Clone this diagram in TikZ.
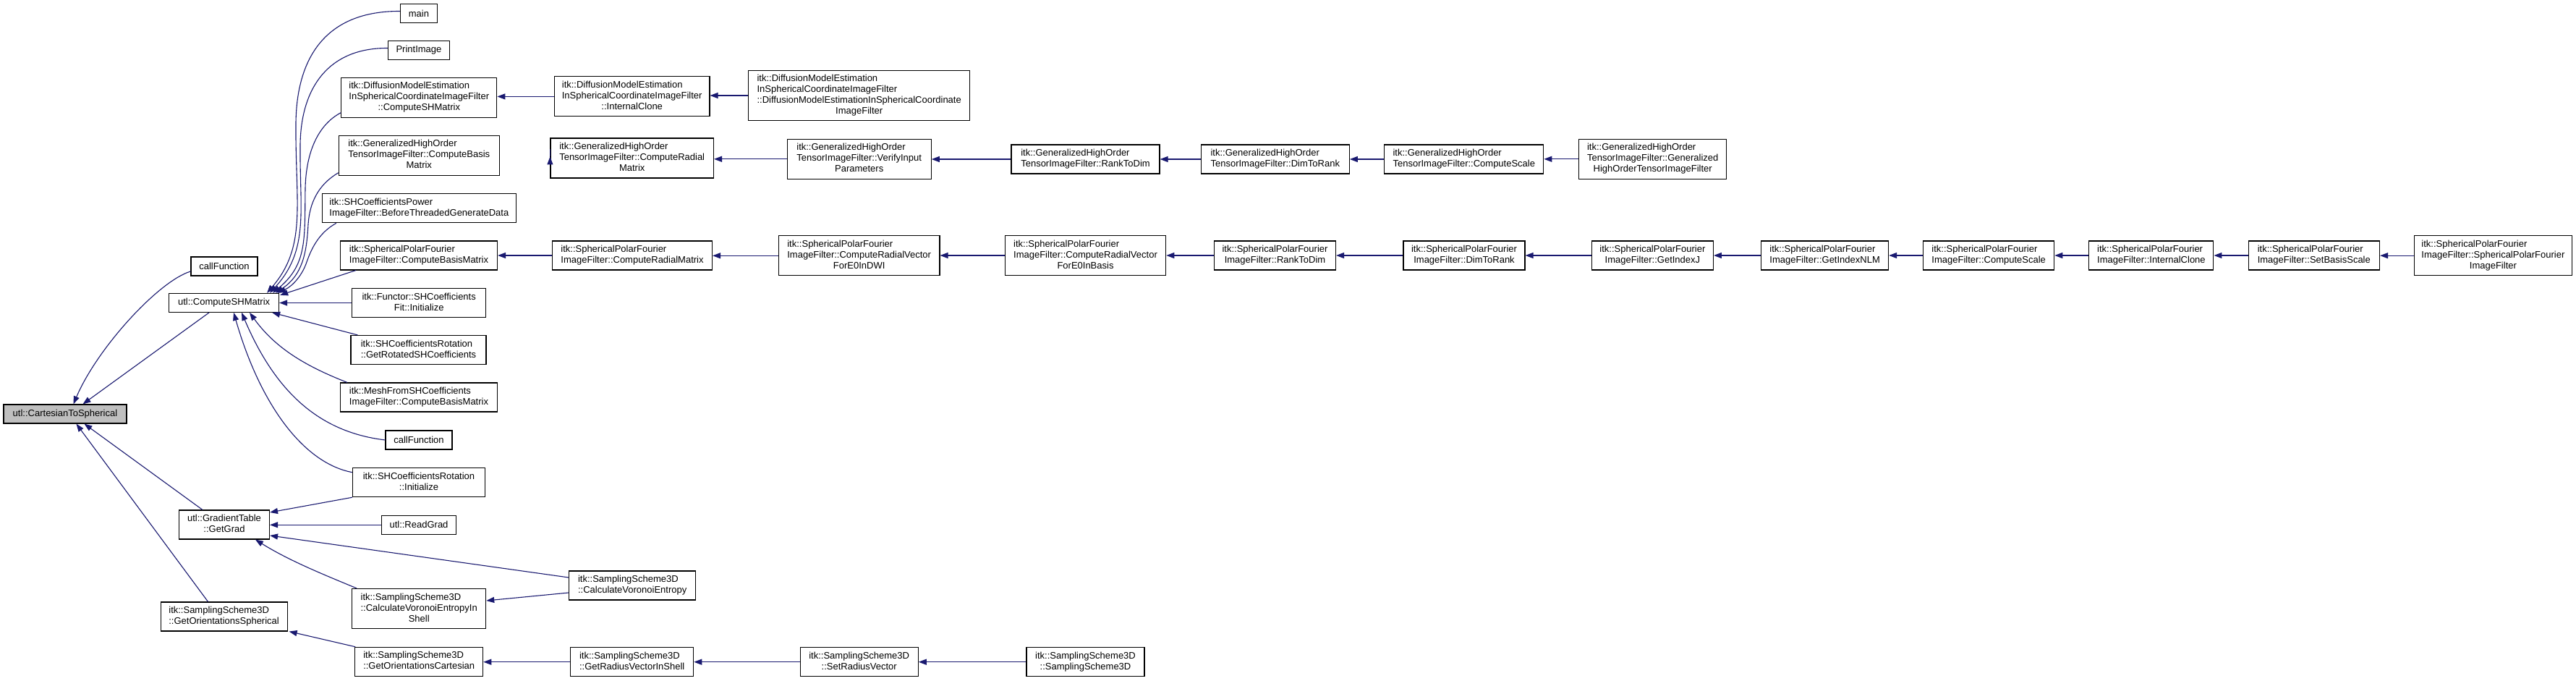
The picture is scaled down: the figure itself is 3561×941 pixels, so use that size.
\documentclass[tikz,border=0pt]{standalone}
\usepackage{fontspec}
\setmainfont{Liberation Sans}
\usetikzlibrary{arrows.meta,calc}
\definecolor{navyc}{HTML}{191970}
\definecolor{greyfill}{HTML}{BFBFBF}
\newcommand{\ml}[2]{\begin{tabular}{@{}l@{}}#1\\\multicolumn{1}{@{}c@{}}{#2}\end{tabular}}
\newcommand{\bx}[6]{\node[box,minimum width=#4pt,minimum height=#5pt] (#1) at (#2,#3) {#6};}
\tikzset{
  box/.style={draw=black, line width=1.1pt, inner sep=0pt, fill=white,
    font=\fontsize{13}{15}\selectfont, align=center},
  edge/.style={draw=navyc, line width=1.1pt, -{Triangle[length=11pt,width=8pt]}}
}
\begin{document}
\begin{tikzpicture}[x=1pt,y=-1pt]
\fill[white] (0,0) rectangle (3561,941);
\useasboundingbox (0,0) rectangle (3561,941);
% column 0/1
\node[box,fill=greyfill,minimum width=170pt,minimum height=26pt] (cart) at (90,572) {utl::CartesianToSpherical};
\bx{cf1}{310}{368}{92}{26}{callFunction}
\bx{csh}{309.6}{418.4}{152}{26}{utl::ComputeSHMatrix}
\bx{gg}{310}{725}{125}{40}{\ml{utl::GradientTable}{::GetGrad}}
\bx{gos}{309.6}{852}{175}{40}{\ml{itk::SamplingScheme3D}{::GetOrientationsSpherical}}
% column 2
\bx{main}{579}{18.5}{51}{26}{main}
\bx{pi}{579}{69.5}{85}{26}{PrintImage}
\bx{dcsh}{579.3}{134.7}{215}{55}{\ml{itk::DiffusionModelEstimation\\InSphericalCoordinateImageFilter}{::ComputeSHMatrix}}
\bx{gcb}{579.3}{214.7}{222}{55}{\ml{itk::GeneralizedHighOrder\\TensorImageFilter::ComputeBasis}{Matrix}}
\bx{shp}{579.4}{287.8}{268}{40}{\ml{itk::SHCoefficientsPower}{ImageFilter::BeforeThreadedGenerateData}}
\bx{scb}{579}{353}{217}{40}{\ml{itk::SphericalPolarFourier}{ImageFilter::ComputeBasisMatrix}}
\bx{fun}{579.2}{418.5}{185}{40}{\ml{itk::Functor::SHCoefficients}{Fit::Initialize}}
\bx{grs}{578.5}{483.5}{187}{40}{\ml{itk::SHCoefficientsRotation}{::GetRotatedSHCoefficients}}
\bx{mesh}{579}{549}{217}{40}{\ml{itk::MeshFromSHCoefficients}{ImageFilter::ComputeBasisMatrix}}
\bx{cf2}{579}{608}{92}{26}{callFunction}
\bx{rot}{579}{666.7}{183}{40}{\ml{itk::SHCoefficientsRotation}{::Initialize}}
\bx{rg}{579}{725.3}{103}{26}{utl::ReadGrad}
\bx{cvs}{579.2}{841}{185}{55}{\ml{itk::SamplingScheme3D\\::CalculateVoronoiEntropyIn}{Shell}}
\bx{goc}{579.2}{914.3}{177}{40}{\ml{itk::SamplingScheme3D}{::GetOrientationsCartesian}}
% column 3
\bx{dic}{873.7}{133.4}{214.5}{55}{\ml{itk::DiffusionModelEstimation\\InSphericalCoordinateImageFilter}{::InternalClone}}
\bx{gcr}{873.7}{218.5}{225.5}{55}{\ml{itk::GeneralizedHighOrder\\TensorImageFilter::ComputeRadial}{Matrix}}
\bx{scr}{874}{353}{221}{40}{\ml{itk::SphericalPolarFourier}{ImageFilter::ComputeRadialMatrix}}
\bx{cve}{874.2}{809}{175}{40}{\ml{itk::SamplingScheme3D}{::CalculateVoronoiEntropy}}
\bx{grv}{873.7}{914.7}{170}{40}{\ml{itk::SamplingScheme3D}{::GetRadiusVectorInShell}}
% column 4
\bx{dct}{1187.7}{132}{306}{69}{\ml{itk::DiffusionModelEstimation\\InSphericalCoordinateImageFilter\\::DiffusionModelEstimationInSphericalCoordinate}{ImageFilter}}
\bx{gvi}{1187.7}{219.8}{199}{55}{\ml{itk::GeneralizedHighOrder\\TensorImageFilter::VerifyInput}{Parameters}}
\bx{sdwi}{1187.7}{353.3}{222.5}{55}{\ml{itk::SphericalPolarFourier\\ImageFilter::ComputeRadialVector}{ForE0InDWI}}
\bx{srv}{1187.7}{914.7}{163}{40}{\ml{itk::SamplingScheme3D}{::SetRadiusVector}}
% column 5
\bx{grd}{1500.5}{220}{205}{40}{\ml{itk::GeneralizedHighOrder}{TensorImageFilter::RankToDim}}
\bx{sbas}{1500.5}{353}{222.4}{55}{\ml{itk::SphericalPolarFourier\\ImageFilter::ComputeRadialVector}{ForE0InBasis}}
\bx{ssc}{1500.5}{914.7}{163}{40}{\ml{itk::SamplingScheme3D}{::SamplingScheme3D}}
% column 6
\bx{gdr}{1762.8}{220}{205}{40}{\ml{itk::GeneralizedHighOrder}{TensorImageFilter::DimToRank}}
\bx{srd}{1762.5}{353}{168}{40}{\ml{itk::SphericalPolarFourier}{ImageFilter::RankToDim}}
% column 7
\bx{gcs}{2023.8}{220}{220}{40}{\ml{itk::GeneralizedHighOrder}{TensorImageFilter::ComputeScale}}
\bx{sdr}{2024}{353}{168}{40}{\ml{itk::SphericalPolarFourier}{ImageFilter::DimToRank}}
% column 8
\bx{gct}{2284.7}{219.8}{204}{55}{\ml{itk::GeneralizedHighOrder\\TensorImageFilter::Generalized}{HighOrderTensorImageFilter}}
\bx{sij}{2284.4}{353}{168}{40}{\ml{itk::SphericalPolarFourier}{ImageFilter::GetIndexJ}}
% further SPF chain
\bx{snlm}{2522.6}{353}{176}{40}{\ml{itk::SphericalPolarFourier}{ImageFilter::GetIndexNLM}}
\bx{scs}{2749.2}{353}{181}{40}{\ml{itk::SphericalPolarFourier}{ImageFilter::ComputeScale}}
\bx{sic}{2973.9}{353}{172}{40}{\ml{itk::SphericalPolarFourier}{ImageFilter::InternalClone}}
\bx{sbs}{3198.8}{353}{181.5}{40}{\ml{itk::SphericalPolarFourier}{ImageFilter::SetBasisScale}}
\bx{sct}{3446.4}{353.2}{218}{55}{\ml{itk::SphericalPolarFourier\\ImageFilter::SphericalPolarFourier}{ImageFilter}}

% ---- edges into CartesianToSpherical
\draw[edge] ($(cf1.west)+(0,7)$) .. controls (220,388) and (135,480) .. ($(cart.north west)+(97,0)$);
\draw[edge] ($(csh.south west)+(56,0)$) -- ($(cart.north west)+(110,0)$);
\draw[edge] ($(gg.north west)+(33,0)$) -- ($(cart.south west)+(112,0)$);
\draw[edge] ($(gos.north west)+(66,0)$) -- ($(cart.south west)+(101,0)$);

% ---- edges into ComputeSHMatrix
\draw[edge] ($(main.west)+(0,-3)$) .. controls (450,15) and (410,80) .. (409,170) .. controls (408,280) and (425,340) .. ($(csh.north west)+(136,0)$);
\draw[edge] ($(pi.west)+(0,-3)$) .. controls (455,66) and (416,120) .. (415,200) .. controls (414,290) and (428,345) .. ($(csh.north west)+(140,0)$);
\draw[edge] ($(dcsh.south west)+(0,-7)$) .. controls (440,172) and (423,210) .. (422,260) .. controls (421,330) and (425,365) .. ($(csh.north west)+(144,0)$);
\draw[edge] ($(gcb.south west)+(0,-4)$) .. controls (440,255) and (428,280) .. (426,310) .. controls (424,350) and (418,380) .. ($(csh.north west)+(148,0)$);
\draw[edge] ($(shp.south west)+(20,0)$) .. controls (440,322) and (430,345) .. (424,362) .. controls (418,380) and (405,395) .. ($(csh.north west)+(151,0)$);
\draw[edge] ($(scb.south west)+(22,0)$) -- ($(csh.north east)+(1,3)$);
\draw[edge] (fun.west) -- (fun.west -| csh.east);
\draw[edge] ($(grs.north west)+(10,0)$) -- ($(csh.south east)+(-10,0)$);
\draw[edge] ($(mesh.north west)+(10,0)$) .. controls (420,505) and (380,480) .. ($(csh.south west)+(112,0)$);
\draw[edge] (cf2.west) .. controls (440,597) and (380,540) .. ($(csh.south west)+(101,0)$);
\draw[edge] ($(rot.west)+(0,-14)$) .. controls (420,640) and (360,560) .. ($(csh.south west)+(90,0)$);

% ---- edges into GetGrad
\draw[edge] (rot.south west) -- ($(gg.east)+(0,-17)$);
\draw[edge] (rg.west) -- (rg.west -| gg.east);
\draw[edge] ($(cve.west)+(0,-11)$) -- ($(gg.east)+(0,15)$);
\draw[edge] ($(cvs.north west)+(7,0)$) .. controls (450,795) and (400,775) .. ($(gg.south west)+(106,0)$);
\draw[edge] ($(cve.west)+(0,10)$) -- ($(cvs.east)+(0,-11)$);
\draw[edge] ($(goc.north west)+(1,0)$) -- ($(gos.south east)+(2,0)$);

% ---- horizontal chains
\draw[edge] (dic.west) -- (dic.west -| dcsh.east);
\draw[edge] (dct.west) -- (dct.west -| dic.east);

\draw[edge] ($(gcr.west)+(0,-2)$) -- ($(gcr.west)+(0,-2)$ -| gcb.east);
\draw[edge] (gvi.west) -- (gvi.west -| gcr.east);
\draw[edge] (grd.west) -- (grd.west -| gvi.east);
\draw[edge] (gdr.west) -- (gdr.west -| grd.east);
\draw[edge] (gcs.west) -- (gcs.west -| gdr.east);
\draw[edge] (gct.west) -- (gct.west -| gcs.east);

\draw[edge] (scr.west) -- (scr.west -| scb.east);
\draw[edge] (sdwi.west) -- (sdwi.west -| scr.east);
\draw[edge] (sbas.west) -- (sbas.west -| sdwi.east);
\draw[edge] (srd.west) -- (srd.west -| sbas.east);
\draw[edge] (sdr.west) -- (sdr.west -| srd.east);
\draw[edge] (sij.west) -- (sij.west -| sdr.east);
\draw[edge] (snlm.west) -- (snlm.west -| sij.east);
\draw[edge] (scs.west) -- (scs.west -| snlm.east);
\draw[edge] (sic.west) -- (sic.west -| scs.east);
\draw[edge] (sbs.west) -- (sbs.west -| sic.east);
\draw[edge] (sct.west) -- (sct.west -| sbs.east);

\draw[edge] (grv.west) -- (grv.west -| goc.east);
\draw[edge] (srv.west) -- (srv.west -| grv.east);
\draw[edge] (ssc.west) -- (ssc.west -| srv.east);
\end{tikzpicture}
\end{document}
